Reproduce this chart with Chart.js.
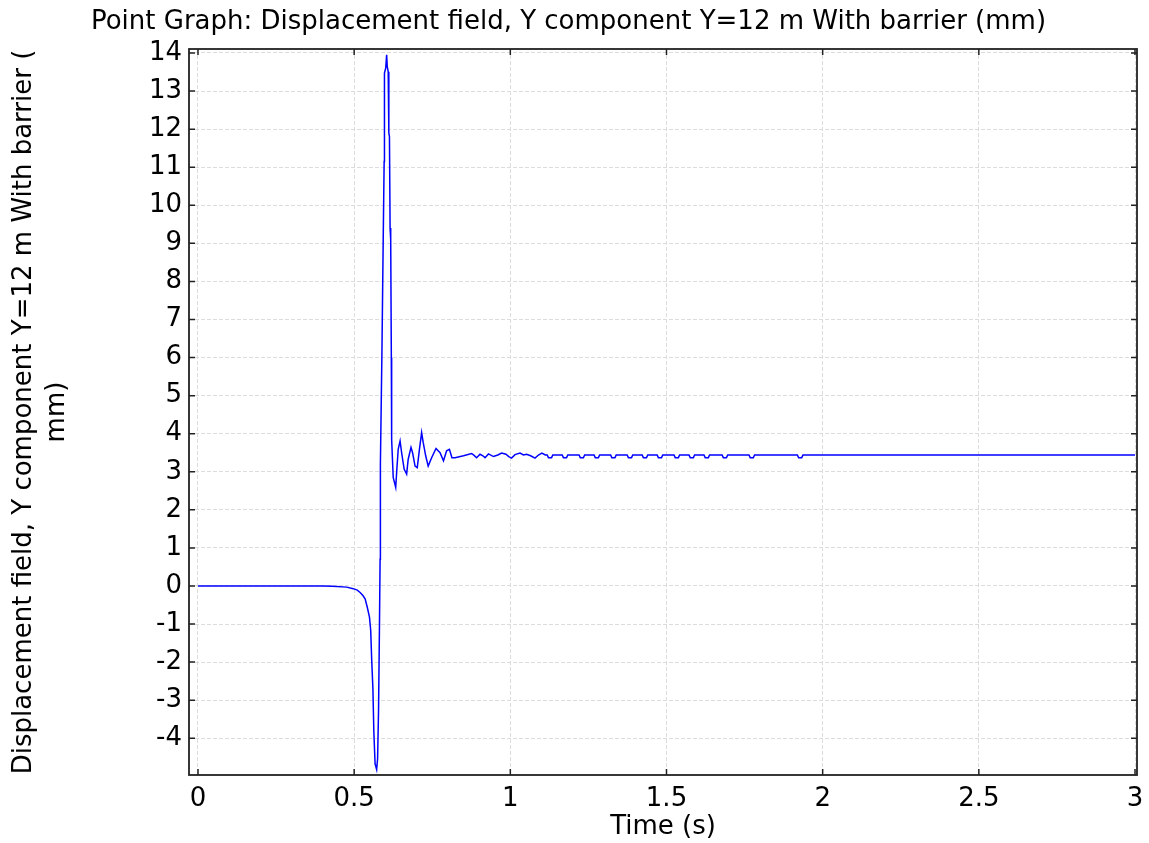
<!DOCTYPE html>
<html>
<head>
<meta charset="utf-8">
<title>Point Graph</title>
<script src="https://cdn.jsdelivr.net/npm/chart.js@4.4.1/dist/chart.umd.min.js"></script>
<style>
  html, body { margin: 0; padding: 0; background: #fff; }
  canvas { display: block; }
</style>
</head>
<body>
<canvas id="chart" width="1149" height="843"></canvas>
<script>
// ─── data (time in s, displacement in mm) ─────────────
// quiet part and the negative dip
const quietTime = [0, 0.2, 0.4, 0.43, 0.476, 0.497, 0.51, 0.519, 0.528, 0.535,
                   0.542, 0.549, 0.553, 0.556, 0.560, 0.563, 0.567, 0.572, 0.575, 0.578];
const quietDisp = [0, 0, 0, -0.01, -0.03, -0.07, -0.11, -0.17, -0.25, -0.34,
                   -0.56, -0.82, -1.17, -1.91, -2.70, -3.83, -4.67, -4.82, -4.54, -3.30];

// main spike
const spikeTime = [0.581, 0.583, 0.584, 0.589, 0.593, 0.596, 0.597, 0.601, 0.604,
                   0.606, 0.609, 0.611, 0.613, 0.615, 0.617, 0.619, 0.620];
const spikeDisp = [-1.05, 0.7, 3.2, 6.2, 9.1, 11.15, 13.47, 13.6, 13.95,
                   13.64, 13.51, 11.9, 11.8, 9.4, 9.1, 6.0, 3.85];

// ringing after the spike
const ringTime = [0.625, 0.633, 0.636, 0.641, 0.647, 0.652, 0.660, 0.668, 0.673, 0.682,
                  0.687, 0.695, 0.702, 0.709, 0.716, 0.721, 0.729, 0.737, 0.748, 0.762,
                  0.775, 0.786, 0.796, 0.805, 0.813, 0.823];
const ringDisp = [2.85, 2.59, 2.98, 3.59, 3.81, 3.50, 3.07, 2.94, 3.33, 3.64,
                  3.50, 3.15, 3.11, 3.59, 4.03, 3.77, 3.42, 3.15, 3.37, 3.61,
                  3.50, 3.29, 3.55, 3.59, 3.37, 3.37];

// small wiggles
const wiggleTime = [0.850, 0.876, 0.884, 0.892, 0.903, 0.912, 0.919, 0.930, 0.946, 0.960,
                    0.972, 0.986, 0.995, 1.004, 1.015, 1.031, 1.042, 1.052, 1.065, 1.079,
                    1.090, 1.101, 1.112];
const wiggleDisp = [3.42, 3.48, 3.43, 3.37, 3.46, 3.42, 3.37, 3.47, 3.40, 3.44,
                    3.49, 3.46, 3.40, 3.36, 3.45, 3.49, 3.44, 3.46, 3.42, 3.36,
                    3.44, 3.49, 3.44];

// settled tail with tiny dips
const tailTime = [
  1.118, 1.122, 1.132, 1.136,
  1.166, 1.170, 1.180, 1.184,
  1.220, 1.224, 1.234, 1.238,
  1.268, 1.272, 1.282, 1.286,
  1.321, 1.325, 1.335, 1.339,
  1.374, 1.378, 1.388, 1.392,
  1.422, 1.426, 1.436, 1.440,
  1.470, 1.474, 1.484, 1.488,
  1.524, 1.528, 1.538, 1.542,
  1.572, 1.576, 1.586, 1.590,
  1.620, 1.624, 1.634, 1.638,
  1.678, 1.682, 1.692, 1.696,
  1.764, 1.768, 1.778, 1.782,
  1.919, 1.923, 1.933, 1.937,
  3.0
];
const tailDisp = [
  3.44, 3.37, 3.37, 3.44,
  3.44, 3.37, 3.37, 3.44,
  3.44, 3.37, 3.37, 3.44,
  3.44, 3.37, 3.37, 3.44,
  3.44, 3.37, 3.37, 3.44,
  3.44, 3.37, 3.37, 3.44,
  3.44, 3.37, 3.37, 3.44,
  3.44, 3.37, 3.37, 3.44,
  3.44, 3.37, 3.37, 3.44,
  3.44, 3.37, 3.37, 3.44,
  3.44, 3.37, 3.37, 3.44,
  3.44, 3.37, 3.37, 3.44,
  3.44, 3.37, 3.37, 3.44,
  3.44, 3.37, 3.37, 3.44,
  3.44
];

const xTicks = [0, 0.5, 1, 1.5, 2, 2.5, 3];
const yTicks = [-4, -3, -2, -1, 0, 1, 2, 3, 4, 5, 6, 7, 8, 9, 10, 11, 12, 13, 14];

const titleText = 'Point Graph: Displacement field, Y component Y=12 m With barrier (mm)';
const yTitle = ['Displacement field, Y component Y=12 m With barrier (', 'mm)'];
const xTitle = 'Time (s)';

// ─── build points ─────────────────────────────
const allTime = [...quietTime, ...spikeTime, ...ringTime, ...wiggleTime, ...tailTime];
const allDisp = [...quietDisp, ...spikeDisp, ...ringDisp, ...wiggleDisp, ...tailDisp];
const points = allTime.map((t, i) => ({ x: t, y: allDisp[i] }));

const FONT = 'DejaVu Sans';
const FS = 26;
Chart.defaults.font.family = FONT;
Chart.defaults.color = '#000';

// frame + inward tick marks (COMSOL style)
const framePlugin = {
  id: 'frame',
  afterDraw(chart) {
    const { ctx, chartArea: a, scales: { x, y } } = chart;
    ctx.save();
    ctx.strokeStyle = '#222';
    ctx.lineWidth = 1.5;
    ctx.beginPath();
    xTicks.forEach(v => {
      const px = x.getPixelForValue(v);
      ctx.moveTo(px, a.bottom); ctx.lineTo(px, a.bottom - 6);
      ctx.moveTo(px, a.top);    ctx.lineTo(px, a.top + 6);
    });
    yTicks.forEach(v => {
      const py = y.getPixelForValue(v);
      ctx.moveTo(a.left, py);  ctx.lineTo(a.left + 6, py);
      ctx.moveTo(a.right, py); ctx.lineTo(a.right - 6, py);
    });
    ctx.stroke();
    ctx.lineWidth = 1.8;
    ctx.strokeRect(a.left, a.top, a.right - a.left, a.bottom - a.top);
    ctx.restore();
  }
};

new Chart(document.getElementById('chart'), {
  type: 'scatter',
  data: {
    datasets: [{
      data: points,
      showLine: true,
      borderColor: '#0000ff',
      borderWidth: 1.5,
      pointRadius: 0,
      tension: 0
    }]
  },
  options: {
    responsive: false,
    animation: false,
    layout: { padding: { left: 0, right: 12, top: 0, bottom: 0 } },
    plugins: {
      legend: { display: false },
      tooltip: { enabled: false },
      title: {
        display: true,
        text: titleText,
        color: '#000',
        font: { size: FS, weight: 'normal', family: FONT },
        padding: { top: 7, bottom: 10.8 }
      }
    },
    scales: {
      x: {
        type: 'linear',
        min: -0.0288,
        max: 3.0064,
        afterBuildTicks: s => { s.ticks = xTicks.map(v => ({ value: v })); },
        afterFit: s => { s.height = 68; s.paddingLeft = 0; s.paddingRight = 0; },
        grid: { color: '#dcdcdc', lineWidth: 1, drawTicks: false },
        border: { display: false, dash: [4, 2] },
        ticks: {
          padding: 9, color: '#000', font: { size: FS, family: FONT },
          callback: v => String(v)
        },
        title: {
          display: true, text: xTitle, color: '#000',
          font: { size: FS, family: FONT },
          padding: { top: 0, bottom: 0 }
        }
      },
      y: {
        type: 'linear',
        min: -4.965,
        max: 14.105,
        afterBuildTicks: s => { s.ticks = yTicks.map(v => ({ value: v })); },
        afterFit: s => { s.width = 189; s.paddingTop = 0; s.paddingBottom = 0; },
        grid: { color: '#dcdcdc', lineWidth: 1, drawTicks: false },
        border: { display: false, dash: [4, 2] },
        ticks: {
          padding: 7, color: '#000', font: { size: FS, family: FONT },
          callback: v => String(v)
        },
        title: {
          display: true, text: yTitle, color: '#000',
          font: { size: FS, family: FONT, lineHeight: 1.27 },
          padding: { top: 8, bottom: 0 }
        }
      }
    }
  },
  plugins: [framePlugin]
});
</script>
</body>
</html>
